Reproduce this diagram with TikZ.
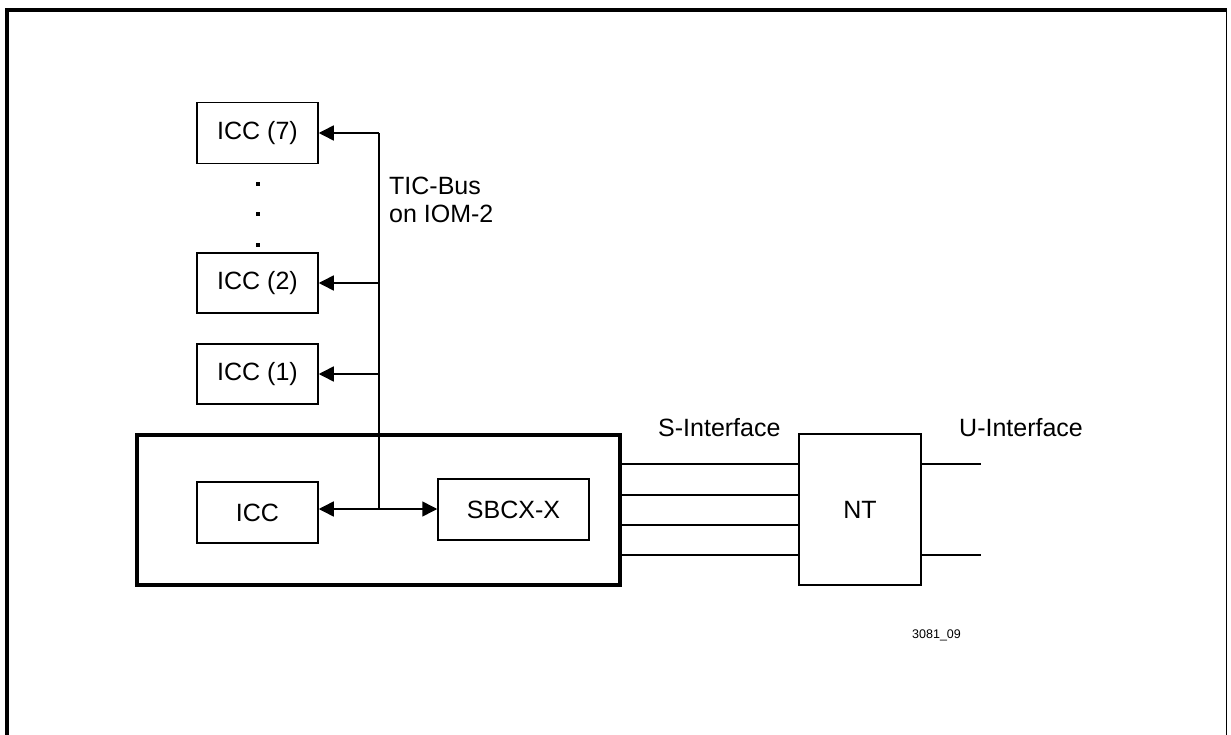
\documentclass[tikz,border=0pt]{standalone}
\usepackage{fontspec}
\setmainfont{Liberation Sans}
\usetikzlibrary{arrows.meta}
\begin{document}
\begin{tikzpicture}[x=1pt,y=-1pt,
  thinline/.style={line width=1.5pt},
  thickline/.style={line width=3.5pt},
  blk/.style={draw,thinline,minimum width=#1,inner sep=0pt,font=\fontsize{25}{30}\selectfont},
  lbl/.style={inner sep=0pt,font=\fontsize{25}{30}\selectfont},
  arr/.style={thinline,-{Triangle[length=15pt,width=15pt]}},
  darr/.style={thinline,{Triangle[length=15pt,width=15pt]}-{Triangle[length=15pt,width=15pt]}},
  dotmark/.style={fill=black}
]
\useasboundingbox (0,0) rectangle (1231,735);
% outer frame
\draw[thickline] (7,740) -- (7,10) -- (1227,10);
\draw[thinline] (1226.5,10) -- (1226.5,740);

% ICC boxes on TIC bus
\node[blk=121pt,minimum height=61pt] (icc7) at (257.5,133) {ICC (7)};
\node[blk=121pt,minimum height=60pt] (icc2) at (257.5,283) {ICC (2)};
\node[blk=121pt,minimum height=60pt] (icc1) at (257.5,374) {ICC (1)};

% dots
\fill[dotmark] (256,182) rectangle (260,186);
\fill[dotmark] (256,212) rectangle (260,216);
\fill[dotmark] (256,243) rectangle (260,247);

% big box
\node[draw,thickline,minimum width=483pt,minimum height=150pt,inner sep=0pt] (big) at (378.5,510) {};
\node[blk=121pt,minimum height=61pt] (icc) at (257.5,512.5) {ICC};
\node[blk=151pt,minimum height=61pt] (sbcx) at (513.5,509.5) {SBCX-X};

% NT
\node[blk=122pt,minimum height=151pt] (nt) at (860,509.5) {NT};

% bus
\coordinate (bt) at (379,133);
\coordinate (b2) at (379,283);
\coordinate (b1) at (379,374);
\coordinate (bj) at (379,509);
\draw[thinline] (bt) -- (bj);
\draw[arr] (bt) -- (icc7.east);
\draw[arr] (b2) -- (icc2.east);
\draw[arr] (b1) -- (icc1.east);
\draw[darr] (icc.east |- bj) -- (sbcx.west |- bj);

% S interface lines
\foreach \yy [count=\i] in {464,495,525,555} {
  \coordinate (s\i) at (620,\yy);
  \draw[thinline] (big.east |- s\i) -- (nt.west |- s\i);
}
% U interface lines
\coordinate (u1) at (981,464);
\coordinate (u2) at (981,555);
\draw[thinline] (nt.east |- u1) -- (u1);
\draw[thinline] (nt.east |- u2) -- (u2);

% labels
\node[lbl,anchor=base west] (tic1) at (389,195) {TIC-Bus};
\node[lbl,anchor=base west] (tic2) at (389,223) {on IOM-2};
\node[lbl,anchor=base west] (slab) at (658,436) {S-Interface};
\node[lbl,anchor=base west] (ulab) at (959,436) {U-Interface};
\node[inner sep=0pt,anchor=base west,font=\fontsize{12.5}{15}\selectfont] (fig) at (912,638) {3081\_09};
\end{tikzpicture}
\end{document}
